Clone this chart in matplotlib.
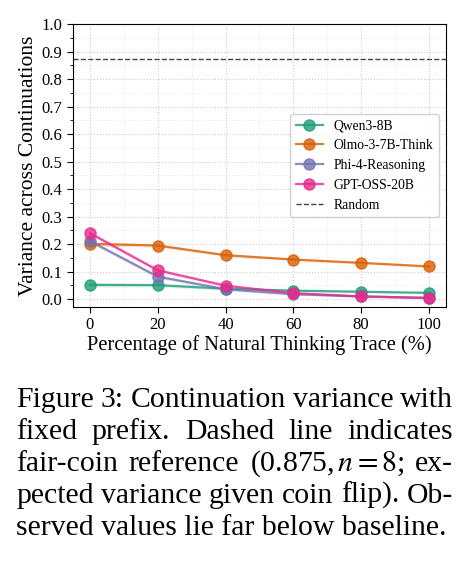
import matplotlib
matplotlib.use("Agg")
import matplotlib.pyplot as plt
import numpy as np

plt.rcParams['font.family'] = 'serif'
plt.rcParams['font.serif'] = ['Liberation Serif', 'DejaVu Serif']
plt.rcParams['mathtext.fontset'] = 'stix'

# data
pct = [0, 20, 40, 60, 80, 100]
models = ["Qwen3-8B", "Olmo-3-7B-Think", "Phi-4-Reasoning", "GPT-OSS-20B"]
qwen = [0.052, 0.051, 0.038, 0.031, 0.027, 0.023]
olmo = [0.201, 0.195, 0.160, 0.144, 0.132, 0.119]
phi = [0.211, 0.082, 0.036, 0.018, 0.010, 0.005]
gpt = [0.240, 0.105, 0.049, 0.022, 0.010, 0.004]
band = [0.008, 0.006, 0.005, 0.004, 0.004, 0.003]
random_ref = 0.875
colors = ["#1b9e77", "#d95f02", "#7570b3", "#e7298a"]

caption_lines = [
    "Figure 3: Continuation variance with",
    "fixed prefix.  Dashed line indicates",
    r"fair-coin reference (0.875,$\,n{=}8$; ex-",
    "pected variance given coin flip). Ob-",
    "served values lie far below baseline.",
]

fig = plt.figure(figsize=(4.75, 5.61), dpi=100)
ax = fig.add_axes([0.1537, 0.453, 0.785, 0.504])

series = [qwen, olmo, phi, gpt]
for name, vals, c in zip(models, series, colors):
    v = np.array(vals)
    b = np.array(band)
    ax.fill_between(pct, v - b, v + b, color=c, alpha=0.15, linewidth=0)
    ax.plot(pct, v, "-o", color=c, alpha=0.8, lw=1.6, ms=8, label=name)

ax.axhline(random_ref, color="#444444", ls="--", lw=1.0, label="Random")

ax.set_xlim(-5, 105)
ax.set_ylim(-0.028, 1.0)
ax.set_xticks(pct)
ax.set_xticks(range(0, 101, 10), minor=True)
ax.set_yticks(np.arange(0, 1.01, 0.1))
ax.set_yticks(np.arange(0, 1.01, 0.05), minor=True)
ax.tick_params(axis='both', which='major', labelsize=12, length=4)
ax.tick_params(axis='x', which='minor', length=0)
ax.tick_params(axis='y', which='minor', length=2)
ax.grid(True, which='major', ls=':', color='#cccccc', lw=0.8)
ax.grid(True, which='minor', ls=':', color='#e6e6e6', lw=0.6)
ax.set_axisbelow(True)

ax.set_xlabel("Percentage of Natural Thinking Trace (%)", fontsize=14.8, labelpad=1)
ax.set_ylabel("Variance across Continuations", fontsize=15.5, labelpad=3)
ax.legend(loc='center right', fontsize=9.8, framealpha=0.9, edgecolor='#cccccc')

# caption, justified like the paper
r = fig.canvas.get_renderer()
left, right = 16, 453
W, H = 475, 561
baselines = [407, 439, 471, 503, 535]
fs = 21.4
for i, line in enumerate(caption_lines):
    y = 1 - baselines[i] / H
    if i == len(caption_lines) - 1:
        fig.text(left / W, y, line, fontsize=fs, va='baseline', ha='left')
        continue
    words = line.replace("  ", " ").split(" ")
    texts = [fig.text(0, y, w, fontsize=fs, va='baseline', ha='left') for w in words]
    widths = [t.get_window_extent(renderer=r).width for t in texts]
    gap = (right - left - sum(widths)) / (len(words) - 1)
    x = left
    for t, w in zip(texts, widths):
        t.set_x(x / W)
        x += w + gap

fig.savefig("out.png", dpi=100)
